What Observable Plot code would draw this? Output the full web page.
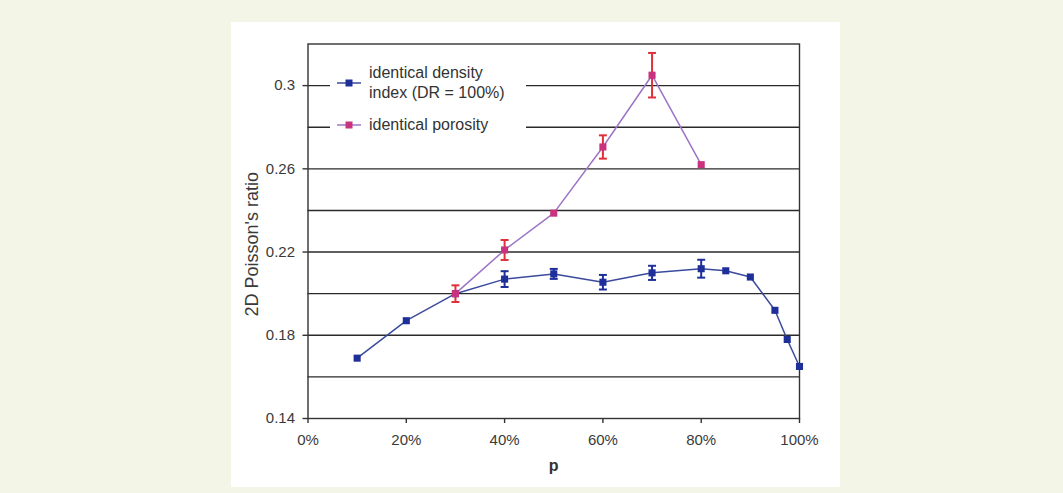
<!DOCTYPE html>
<html>
<head>
<meta charset="utf-8">
<script src="https://cdn.jsdelivr.net/npm/d3@7"></script>
<script src="https://cdn.jsdelivr.net/npm/@observablehq/plot@0.6"></script>
<style>
  html, body { margin: 0; padding: 0; background: #f3f6e7; }
  #page { position: relative; width: 1063px; height: 493px; overflow: hidden; }
  #panel { position: absolute; left: 231px; top: 22px; width: 609px; height: 465px; background: #fff; }
  #chart { position: absolute; left: 0; top: 0; }
  #legend {
    position: absolute; left: 330px; top: 62px; width: 196px; height: 78px;
    background: #fff; font-family: "Liberation Sans", Arial, sans-serif; font-size: 16px; color: #333;
  }
  .item { position: absolute; left: 6px; display: flex; align-items: flex-start; }
  .item svg { flex: none; margin-right: 7px; }
  .item div { line-height: 20px; }
</style>
</head>
<body>
<div id="page">
  <div id="panel"></div>
  <div id="chart"></div>
  <div id="legend"></div>
</div>
<script>
// Identical density index (DR = 100%)
const densityP   = [0.10, 0.20, 0.30, 0.40, 0.50, 0.60, 0.70, 0.80, 0.85, 0.90, 0.95, 0.975, 1.00];
const densityV   = [0.169, 0.187, 0.200, 0.207, 0.2095, 0.2055, 0.210, 0.212, 0.211, 0.208, 0.192, 0.178, 0.165];
const densityErr = [0, 0, 0, 0.0038, 0.0024, 0.0035, 0.0034, 0.0043, 0, 0, 0, 0, 0];

// Identical porosity
const porosityP   = [0.30, 0.40, 0.50, 0.60, 0.70, 0.80];
const porosityV   = [0.200, 0.221, 0.2387, 0.2705, 0.305, 0.262];
const porosityErr = [0.004, 0.0048, 0, 0.0056, 0.0107, 0];

const seriesNames = ["identical density", "index (DR = 100%)", "identical porosity"];
const yTickLabels = [0.14, 0.18, 0.22, 0.26, 0.3];
const yGrid = [0.16, 0.18, 0.20, 0.22, 0.24, 0.26, 0.28, 0.30];
const xTicks = [0, 0.2, 0.4, 0.6, 0.8, 1.0];

const colors = {
  densityLine: "#3b4a9c", densityDot: "#1f2f9a", densityErr: "#1f2f9a",
  porosityLine: "#9c74c6", porosityDot: "#c8327f", porosityErr: "#e0303a"
};

const density = densityP.map((p, i) => ({p, v: densityV[i], e: densityErr[i]}));
const porosity = porosityP.map((p, i) => ({p, v: porosityV[i], e: porosityErr[i]}));
const densityBars = density.filter(d => d.e > 0);
const porosityBars = porosity.filter(d => d.e > 0);

// horizontal cap symbol for error bars
const cap = {draw(ctx, size) { const w = Math.sqrt(size) / 2; ctx.moveTo(-w, 0); ctx.lineTo(w, 0); }};

function errorMarks(rows, color) {
  return [
    Plot.ruleX(rows, {x: "p", y1: d => d.v - d.e, y2: d => d.v + d.e, stroke: color, strokeWidth: 2}),
    Plot.dot(rows, {x: "p", y: d => d.v - d.e, symbol: cap, r: 4.5, stroke: color, strokeWidth: 2}),
    Plot.dot(rows, {x: "p", y: d => d.v + d.e, symbol: cap, r: 4.5, stroke: color, strokeWidth: 2})
  ];
}

const chart = Plot.plot({
  width: 1063,
  height: 493,
  marginLeft: 307.5,
  marginRight: 264,
  marginTop: 43.5,
  marginBottom: 75,
  style: {background: "transparent", fontFamily: "Liberation Sans, Arial, sans-serif", color: "#333", overflow: "visible"},
  x: {domain: [0, 1]},
  y: {domain: [0.14, 0.32]},
  marks: [
    Plot.ruleY(yGrid, {stroke: "#2a2a2a", strokeWidth: 1.4}),
    Plot.frame({stroke: "#333", strokeWidth: 1.4}),
    Plot.axisY({ticks: yTickLabels, tickFormat: d => d === 0.3 ? "0.3" : d.toFixed(2), tickSize: 5, tickPadding: 8, fontSize: 15, label: null, stroke: "#333", strokeWidth: 1.4, fill: "#3a3a3a"}),
    Plot.axisX({ticks: xTicks, tickFormat: d3.format(".0%"), tickSize: 5, tickPadding: 11, fontSize: 15, label: null, stroke: "#333", strokeWidth: 1.4, fill: "#3a3a3a"}),
    Plot.text(["2D Poisson's ratio"], {frameAnchor: "left", textAnchor: "middle", dx: -56, dy: 13, rotate: -90, fontSize: 18, fill: "#3a3a3a"}),
    Plot.text(["p"], {frameAnchor: "bottom", dy: 52, fontSize: 16, fontWeight: "bold", fill: "#333"}),
    Plot.line(density, {x: "p", y: "v", stroke: colors.densityLine, strokeWidth: 1.5}),
    Plot.line(porosity, {x: "p", y: "v", stroke: colors.porosityLine, strokeWidth: 1.5}),
    ...errorMarks(densityBars, colors.densityErr),
    ...errorMarks(porosityBars, colors.porosityErr),
    Plot.dot(density, {x: "p", y: "v", symbol: "square", r: 4, fill: colors.densityDot}),
    Plot.dot(porosity, {x: "p", y: "v", symbol: "square", r: 4, fill: colors.porosityDot})
  ]
});
document.getElementById("chart").append(chart);

// legend swatches: a short line with a square marker
function swatch(line, dot, h) {
  const c = h / 2;
  return `<svg width="26" height="${h}"><line x1="1" x2="25" y1="${c}" y2="${c}" stroke="${line}" stroke-width="1.5"/>` +
         `<rect x="9.5" y="${c - 3.5}" width="7" height="7" fill="${dot}"/></svg>`;
}
const legend = document.getElementById("legend");
legend.innerHTML =
  `<div class="item" style="top:1px">${swatch(colors.densityLine, colors.densityDot, 40)}<div>${seriesNames[0]}<br>${seriesNames[1]}</div></div>` +
  `<div class="item" style="top:53px">${swatch(colors.porosityLine, colors.porosityDot, 20)}<div>${seriesNames[2]}</div></div>`;
</script>
</body>
</html>
